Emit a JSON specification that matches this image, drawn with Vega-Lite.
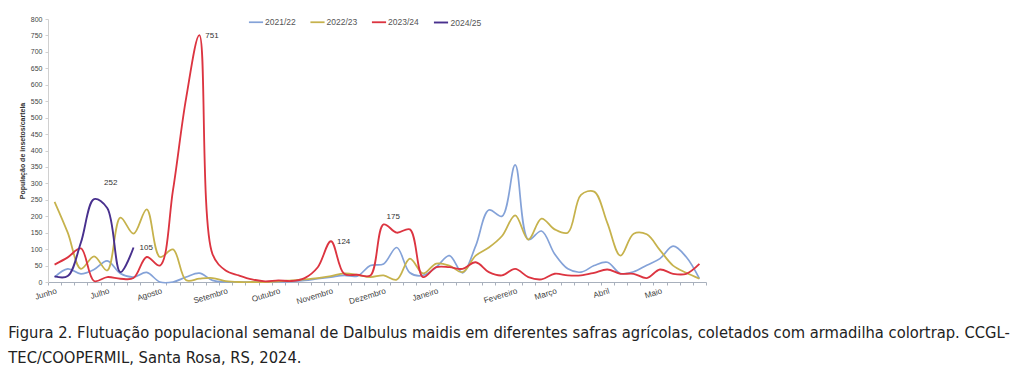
{
  "$schema": "https://vega.github.io/schema/vega-lite/v6.json",
  "autosize": {"type": "none"},
  "width": 658,
  "height": 263,
  "padding": {"left": 48, "top": 19, "right": 318, "bottom": 109},
  "background": "white",
  "config": {"view": {"stroke": null}, "font": "Liberation Sans"},
  "title": {
    "text": ["Figura 2. Flutuação populacional semanal de Dalbulus maidis em diferentes safras agrícolas, coletados com armadilha colortrap. CCGL-", "TEC/COOPERMIL, Santa Rosa, RS, 2024."],
    "orient": "bottom",
    "anchor": "start",
    "frame": "bounds",
    "font": "Liberation Sans Narrow, DejaVu Sans Condensed, Liberation Sans",
    "fontSize": 16.4,
    "fontWeight": "normal",
    "color": "#222",
    "lineHeight": 25,
    "offset": 20,
    "dx": -10
  },
  "datasets": {
    "semanas": [
      {"semana": 0, "2021/22": 15, "2022/23": 244, "2023/24": 53, "2024/25": 17},
      {"semana": 1, "2021/22": 40, "2022/23": 150, "2023/24": 75, "2024/25": 18},
      {"semana": 2, "2021/22": 25, "2022/23": 40, "2023/24": 102, "2024/25": 120},
      {"semana": 3, "2021/22": 38, "2022/23": 78, "2023/24": 3, "2024/25": 252},
      {"semana": 4, "2021/22": 64, "2022/23": 35, "2023/24": 15, "2024/25": 225},
      {"semana": 5, "2021/22": 26, "2022/23": 196, "2023/24": 10, "2024/25": 30},
      {"semana": 6, "2021/22": 15, "2022/23": 147, "2023/24": 12, "2024/25": 105},
      {"semana": 7, "2021/22": 29, "2022/23": 221, "2023/24": 76, "2024/25": null},
      {"semana": 8, "2021/22": 0, "2022/23": 76, "2023/24": 50, "2024/25": null},
      {"semana": 9, "2021/22": 0, "2022/23": 99, "2023/24": 280, "2024/25": null},
      {"semana": 10, "2021/22": 15, "2022/23": 5, "2023/24": 560, "2024/25": null},
      {"semana": 11, "2021/22": 27, "2022/23": 10, "2023/24": 751, "2024/25": null},
      {"semana": 12, "2021/22": 5, "2022/23": 12, "2023/24": 85, "2024/25": null},
      {"semana": 13, "2021/22": 0, "2022/23": 3, "2023/24": 35, "2024/25": null},
      {"semana": 14, "2021/22": 0, "2022/23": 0, "2023/24": 20, "2024/25": null},
      {"semana": 15, "2021/22": 0, "2022/23": 0, "2023/24": 8, "2024/25": null},
      {"semana": 16, "2021/22": 0, "2022/23": 0, "2023/24": 2, "2024/25": null},
      {"semana": 17, "2021/22": 0, "2022/23": 2, "2023/24": 5, "2024/25": null},
      {"semana": 18, "2021/22": 2, "2022/23": 5, "2023/24": 3, "2024/25": null},
      {"semana": 19, "2021/22": 5, "2022/23": 8, "2023/24": 12, "2024/25": null},
      {"semana": 20, "2021/22": 10, "2022/23": 12, "2023/24": 45, "2024/25": null},
      {"semana": 21, "2021/22": 15, "2022/23": 18, "2023/24": 124, "2024/25": null},
      {"semana": 22, "2021/22": 20, "2022/23": 26, "2023/24": 25, "2024/25": null},
      {"semana": 23, "2021/22": 18, "2022/23": 22, "2023/24": 22, "2024/25": null},
      {"semana": 24, "2021/22": 50, "2022/23": 15, "2023/24": 20, "2024/25": null},
      {"semana": 25, "2021/22": 55, "2022/23": 20, "2023/24": 175, "2024/25": null},
      {"semana": 26, "2021/22": 105, "2022/23": 7, "2023/24": 150, "2024/25": null},
      {"semana": 27, "2021/22": 28, "2022/23": 71, "2023/24": 160, "2024/25": null},
      {"semana": 28, "2021/22": 20, "2022/23": 26, "2023/24": 15, "2024/25": null},
      {"semana": 29, "2021/22": 45, "2022/23": 56, "2023/24": 45, "2024/25": null},
      {"semana": 30, "2021/22": 80, "2022/23": 50, "2023/24": 45, "2024/25": null},
      {"semana": 31, "2021/22": 28, "2022/23": 30, "2023/24": 40, "2024/25": null},
      {"semana": 32, "2021/22": 110, "2022/23": 80, "2023/24": 60, "2024/25": null},
      {"semana": 33, "2021/22": 219, "2022/23": 105, "2023/24": 30, "2024/25": null},
      {"semana": 34, "2021/22": 200, "2022/23": 140, "2023/24": 20, "2024/25": null},
      {"semana": 35, "2021/22": 356, "2022/23": 203, "2023/24": 40, "2024/25": null},
      {"semana": 36, "2021/22": 129, "2022/23": 129, "2023/24": 15, "2024/25": null},
      {"semana": 37, "2021/22": 155, "2022/23": 193, "2023/24": 8, "2024/25": null},
      {"semana": 38, "2021/22": 85, "2022/23": 160, "2023/24": 25, "2024/25": null},
      {"semana": 39, "2021/22": 40, "2022/23": 150, "2023/24": 20, "2024/25": null},
      {"semana": 40, "2021/22": 30, "2022/23": 265, "2023/24": 20, "2024/25": null},
      {"semana": 41, "2021/22": 50, "2022/23": 275, "2023/24": 28, "2024/25": null},
      {"semana": 42, "2021/22": 60, "2022/23": 180, "2023/24": 38, "2024/25": null},
      {"semana": 43, "2021/22": 26, "2022/23": 80, "2023/24": 25, "2024/25": null},
      {"semana": 44, "2021/22": 31, "2022/23": 147, "2023/24": 25, "2024/25": null},
      {"semana": 45, "2021/22": 51, "2022/23": 145, "2023/24": 12, "2024/25": null},
      {"semana": 46, "2021/22": 71, "2022/23": 97, "2023/24": 38, "2024/25": null},
      {"semana": 47, "2021/22": 109, "2022/23": 50, "2023/24": 25, "2024/25": null},
      {"semana": 48, "2021/22": 76, "2022/23": 28, "2023/24": 25, "2024/25": null},
      {"semana": 49, "2021/22": 10, "2022/23": 10, "2023/24": 55, "2024/25": null}
    ],
    "rotulos": [
      {"semana": 3, "valor": 252, "rotulo": "252"},
      {"semana": 6, "valor": 105, "rotulo": "105"},
      {"semana": 11, "valor": 751, "rotulo": "751"},
      {"semana": 21, "valor": 124, "rotulo": "124"},
      {"semana": 25, "valor": 175, "rotulo": "175"}
    ]
  },
  "layer": [
    {
      "data": {"name": "semanas"},
      "transform": [
        {"fold": ["2021/22", "2022/23", "2023/24", "2024/25"], "as": ["safra", "valor"]},
        {"filter": "isValid(datum.valor)"}
      ],
      "mark": {"type": "line", "interpolate": "catmull-rom"},
      "encoding": {
        "x": {
          "field": "semana", "type": "quantitative",
          "scale": {"domain": [-0.5, 49.5], "nice": false, "zero": false},
          "axis": {
            "values": [-0.5,0.5,1.5,2.5,3.5,4.5,5.5,6.5,7.5,8.5,9.5,10.5,11.5,12.5,13.5,14.5,15.5,16.5,17.5,18.5,19.5,20.5,21.5,22.5,23.5,24.5,25.5,26.5,27.5,28.5,29.5,30.5,31.5,32.5,33.5,34.5,35.5,36.5,37.5,38.5,39.5,40.5,41.5,42.5,43.5,44.5,45.5,46.5,47.5,48.5,49.5],
            "tickCount": 200,
            "labelExpr": "datum.value == -0.5 ? 'Junho' : datum.value == 3.5 ? 'Julho' : datum.value == 7.5 ? 'Agosto' : datum.value == 12.5 ? 'Setembro' : datum.value == 16.5 ? 'Outubro' : datum.value == 20.5 ? 'Novembro' : datum.value == 24.5 ? 'Dezembro' : datum.value == 28.5 ? 'Janeiro' : datum.value == 34.5 ? 'Fevereiro' : datum.value == 37.5 ? 'Março' : datum.value == 41.5 ? 'Abril' : datum.value == 45.5 ? 'Maio' : ''",
            "labelAngle": -17,
            "labelAlign": "right",
            "labelBaseline": "top",
            "labelOffset": 7,
            "labelFontSize": 8.2,
            "labelColor": "#444",
            "labelOverlap": false,
            "labelFlush": false,
            "labelPadding": 2,
            "tickSize": 3,
            "tickColor": "#a8b0bc",
            "domainColor": "#a8b0bc",
            "grid": false,
            "title": null
          }
        },
        "y": {
          "field": "valor", "type": "quantitative",
          "scale": {"domain": [0, 800], "nice": false},
          "axis": {
            "values": [0,50,100,150,200,250,300,350,400,450,500,550,600,650,700,750,800],
            "tickCount": 100,
            "labelOverlap": false,
            "title": "População de insetos/cartela",
            "titleFontSize": 7,
            "titleFontWeight": "bold",
            "titleColor": "#333",
            "titlePadding": 5,
            "labelFontSize": 7,
            "labelColor": "#444",
            "labelPadding": 3,
            "grid": false,
            "tickSize": 3,
            "tickColor": "#d0d0d0",
            "domainColor": "#d0d0d0"
          }
        },
        "color": {
          "field": "safra", "type": "nominal",
          "scale": {"domain": ["2021/22", "2022/23", "2023/24", "2024/25"], "range": ["#84a2d8", "#c6b24c", "#dc3440", "#48308e"]},
          "legend": {
            "title": null, "orient": "none", "legendX": 200, "legendY": -5,
            "direction": "horizontal", "symbolType": "stroke", "symbolSize": 200,
            "labelFontSize": 8.5, "labelColor": "#555", "columnPadding": 10.5, "labelOffset": 1
          }
        },
        "strokeWidth": {
          "field": "safra", "type": "nominal",
          "scale": {"domain": ["2021/22", "2022/23", "2023/24", "2024/25"], "range": [1.7, 1.9, 2.2, 3]},
          "legend": {
            "title": null, "orient": "none", "legendX": 200, "legendY": -5,
            "direction": "horizontal", "symbolType": "stroke", "symbolSize": 200,
            "labelFontSize": 8.5, "labelColor": "#555", "columnPadding": 10.5, "labelOffset": 1
          }
        }
      }
    },
    {
      "data": {"name": "rotulos"},
      "transform": [{"filter": "datum.rotulo == '252'"}],
      "mark": {"type": "text", "align": "left", "baseline": "middle", "dx": 10, "dy": -16, "fontSize": 8, "color": "#333"},
      "encoding": {"x": {"field": "semana", "type": "quantitative"}, "y": {"field": "valor", "type": "quantitative"}, "text": {"field": "rotulo"}}
    },
    {
      "data": {"name": "rotulos"},
      "transform": [{"filter": "datum.rotulo == '105' || datum.rotulo == '751' || datum.rotulo == '124'"}],
      "mark": {"type": "text", "align": "left", "baseline": "middle", "dx": 6, "dy": 1, "fontSize": 8, "color": "#333"},
      "encoding": {"x": {"field": "semana", "type": "quantitative"}, "y": {"field": "valor", "type": "quantitative"}, "text": {"field": "rotulo"}}
    },
    {
      "data": {"name": "rotulos"},
      "transform": [{"filter": "datum.rotulo == '175'"}],
      "mark": {"type": "text", "align": "left", "baseline": "middle", "dx": 3, "dy": -7, "fontSize": 8, "color": "#333"},
      "encoding": {"x": {"field": "semana", "type": "quantitative"}, "y": {"field": "valor", "type": "quantitative"}, "text": {"field": "rotulo"}}
    }
  ]
}
